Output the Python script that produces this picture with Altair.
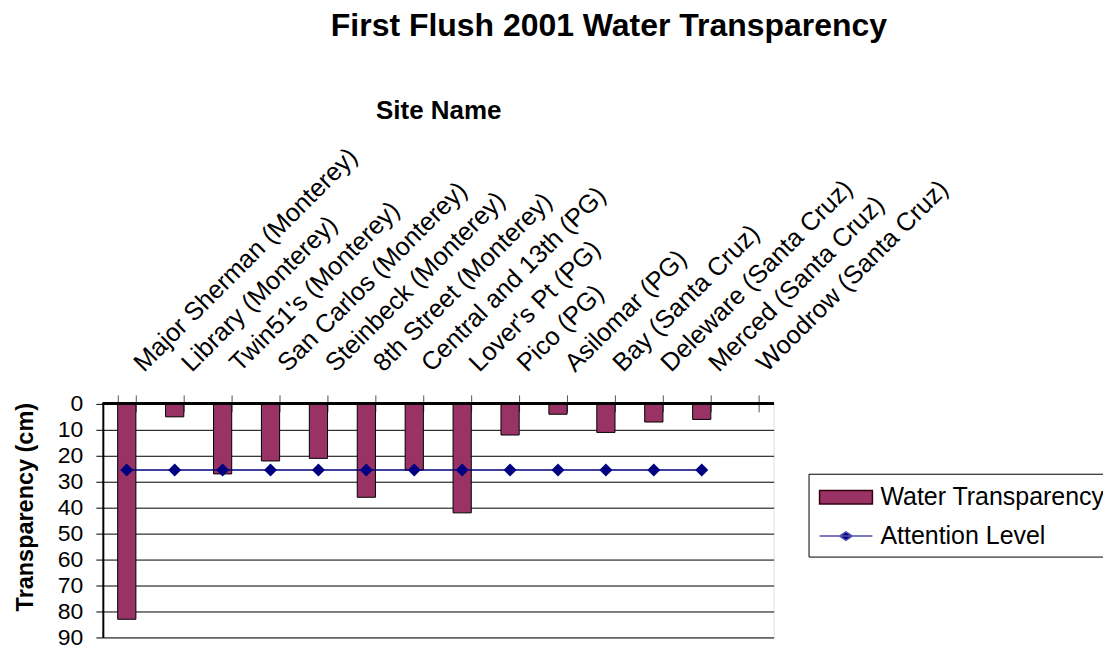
import altair as alt
import pandas as pd

sites = [
    "Major Sherman (Monterey)", "Library (Monterey)", "Twin51's (Monterey)",
    "San Carlos (Monterey)", "Steinbeck (Monterey)", "8th Street (Monterey)",
    "Central and 13th (PG)", "Lover's Pt (PG)", "Pico (PG)", "Asilomar (PG)",
    "Bay (Santa Cruz)", "Deleware (Santa Cruz)", "Merced (Santa Cruz)",
    "Woodrow (Santa Cruz)",
]
transparency = [83, 5, 27, 22, 21, 36, 25.5, 42, 12, 4, 11, 7, 6, None]
attention = [25.5, 25.5, 25.5, 25.5, 25.5, 25.5, 25.5, 25.5, 25.5, 25.5, 25.5, 25.5, 25.5, None]
series = ["Water Transparency", "Attention Level"]
y_ticks = [0, 10, 20, 30, 40, 50, 60, 70, 80, 90]

FONT = "Liberation Sans"
BAR = "#993366"
NAVY = "#000080"

df = pd.DataFrame({"site": sites, "transparency": transparency, "attention": attention})
leg = pd.DataFrame({"series": series})

x_axis = alt.Axis(
    orient="top", title="Site Name", labelAngle=-45, labelAlign="left",
    labelBaseline="middle", labelFontSize=25.5, labelFont=FONT,
    labelPadding=28, labelOffset=11, offset=-8, tickSize=17,
    tickColor="#555555", tickBand="extent", domain=False, labelColor="black",
    titleFont=FONT, titleFontSize=26, titleFontWeight="bold",
    titleColor="black", titleX=336, titleY=-294, titleAlign="center",
    titleBaseline="alphabetic", labelOverlap=False, labelLimit=0,
)
x_scale = alt.Scale(paddingInner=0.62, paddingOuter=0.31)
y_scale = alt.Scale(domain=[0, 90], reverse=True, nice=False)
y_axis = alt.Axis(
    values=y_ticks, title="Transparency (cm)", grid=True, gridColor="black",
    gridWidth=1, domainColor="black", domainWidth=2, tickColor="black",
    tickSize=7, labelFontSize=23, labelFont=FONT, labelPadding=13,
    labelColor="black", titleFont=FONT, titleFontSize=23.5,
    titleFontWeight="bold", titleColor="black", titleX=-77, titleY=103,
    titleAlign="center", titleBaseline="middle", labelOverlap=False,
)


def xe():
    return alt.X("site:N", sort=sites, scale=x_scale, axis=x_axis)


bars = alt.Chart(df).mark_bar(fill=BAR, stroke="black", strokeWidth=1).encode(
    x=xe(),
    y=alt.Y("transparency:Q", scale=y_scale, axis=y_axis),
)

zero_line = alt.Chart(df).mark_rule(color="black", strokeWidth=2).encode(
    y=alt.datum(0, scale=y_scale, axis=y_axis)
)

att = alt.Chart(df).transform_filter("isValid(datum.attention)")
line = att.mark_line(color=NAVY, strokeWidth=1.5).encode(
    x=xe(), y=alt.Y("attention:Q", scale=y_scale, axis=y_axis)
)
pts = att.mark_point(shape="diamond", filled=True, color=NAVY, size=170, opacity=1).encode(
    x=xe(), y=alt.Y("attention:Q", scale=y_scale, axis=y_axis)
)

rect_path = "M-0.83,-0.45H2.7V0.45H-0.83Z"
line_path = "M-0.83,0H2.7M0.93,-0.28L1.35,0L0.93,0.28L0.51,0Z"
legend_cfg = dict(
    title=None, orient="none", legendX=707, legendY=70, labelFontSize=25,
    labelFont=FONT, labelColor="black", symbolSize=900, symbolStrokeWidth=1.5,
    rowPadding=10, strokeColor="black", padding=7.5, labelOffset=32.5,
    symbolOpacity=1, labelLimit=0,
)
legend_layer = alt.Chart(leg).mark_point(filled=True, opacity=0).encode(
    fill=alt.Fill("series:N", scale=alt.Scale(domain=series, range=[BAR, NAVY]),
                  legend=alt.Legend(**legend_cfg)),
    stroke=alt.Stroke("series:N", scale=alt.Scale(domain=series, range=["#330011", "#5050b0"]),
                      legend=alt.Legend(**legend_cfg)),
    shape=alt.Shape("series:N", scale=alt.Scale(domain=series, range=[rect_path, line_path]),
                    legend=alt.Legend(**legend_cfg)),
)

chart = alt.layer(bars, zero_line, line, pts, legend_layer).properties(
    width=672, height=234,
    title=alt.TitleParams(
        "First Flush 2001 Water Transparency", font=FONT, fontSize=32,
        fontWeight="bold", color="black", anchor="middle", dx=171, offset=30,
        baseline="alphabetic",
    ),
    autosize=alt.AutoSizeParams(type="none"),
    padding={"left": 95, "top": 396, "right": 330, "bottom": 12},
).configure_view(stroke="#808080", strokeWidth=1.5).configure(background="white")

chart.save("out.html", embed_options={"renderer": "svg", "actions": False})
